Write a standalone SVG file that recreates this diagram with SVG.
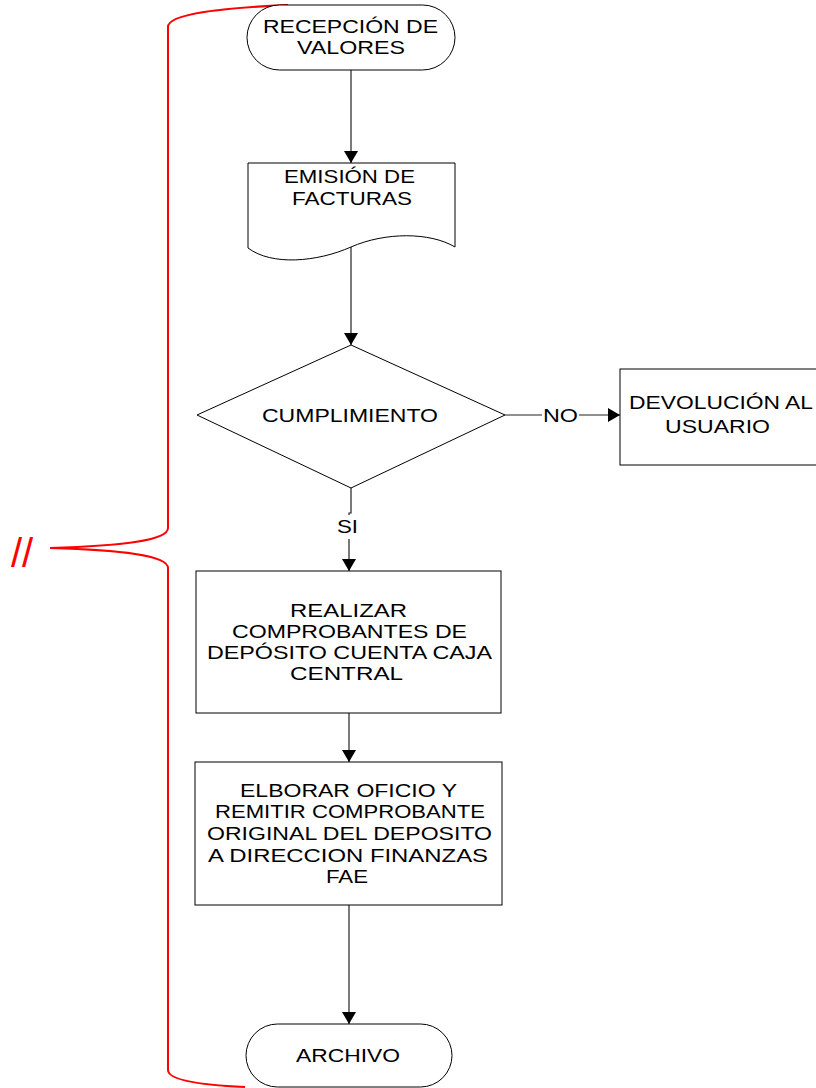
<svg xmlns="http://www.w3.org/2000/svg" width="816" height="1088" viewBox="0 0 816 1088">
  <style>
    .node { fill: #ffffff; stroke: #000000; stroke-width: 1; }
    .edge { fill: none; stroke: #222222; stroke-width: 1.2; }
    .lbl { font-family: "Liberation Sans", Arial, sans-serif; font-size: 18px; fill: #000000; text-anchor: middle; }
    .brace { fill: none; stroke: #ff0000; stroke-width: 2; }
    .mark { font-family: "Liberation Sans", Arial, sans-serif; font-size: 40px; fill: #ff0000; }
  </style>
  <defs>
    <marker id="arrow" markerUnits="userSpaceOnUse" markerWidth="14" markerHeight="14" refX="12" refY="7" orient="auto">
      <path d="M0,0 L12,7 L0,14 Z" fill="#000000"/>
    </marker>
  </defs>

  <rect width="816" height="1088" fill="#ffffff"/>

  <!-- red brace on the left -->
  <g id="brace">
    <path class="brace" d="M288,5 C220,8 168,14 168,27 V528 C168,541 120,546 50,548 C120,550 168,555 168,568 V1070 C168,1080 200,1085 245,1087"/>
    <text class="mark" x="11" y="567">//</text>
  </g>

  <!-- connectors -->
  <g id="connectors">
    <path class="edge" d="M351,70 V163" marker-end="url(#arrow)"/>
    <path class="edge" d="M351,247 V345" marker-end="url(#arrow)"/>
    <path class="edge" d="M351,488 V513 H349 V571" marker-end="url(#arrow)"/>
    <path class="edge" d="M505,415 H620" marker-end="url(#arrow)"/>
    <path class="edge" d="M349,713 V762" marker-end="url(#arrow)"/>
    <path class="edge" d="M349,905 V1024" marker-end="url(#arrow)"/>
    <rect x="336" y="515" width="24" height="24" fill="#ffffff"/>
    <text class="lbl" x="347.5" y="533" textLength="21" lengthAdjust="spacingAndGlyphs">SI</text>
    <rect x="542" y="405" width="37" height="20" fill="#ffffff"/>
    <text class="lbl" x="560.5" y="422" textLength="35" lengthAdjust="spacingAndGlyphs">NO</text>
  </g>

  <g id="recepcion">
    <rect class="node" x="247" y="5" width="208" height="65" rx="32.5"/>
    <text class="lbl" x="350.5" y="33" textLength="175" lengthAdjust="spacingAndGlyphs">RECEPCIÓN DE</text>
    <text class="lbl" x="351" y="54" textLength="108" lengthAdjust="spacingAndGlyphs">VALORES</text>
  </g>

  <g id="emision">
    <path class="node" d="M248,163 H455 V247 C430,232 385,232 351,247 C317,262 272,266 248,248 Z"/>
    <text class="lbl" x="349.5" y="183" textLength="131" lengthAdjust="spacingAndGlyphs">EMISIÓN DE</text>
    <text class="lbl" x="352" y="205" textLength="120" lengthAdjust="spacingAndGlyphs">FACTURAS</text>
  </g>

  <g id="cumplimiento">
    <path class="node" d="M351,345 L505,415 L351,488 L197,415 Z"/>
    <text class="lbl" x="350" y="422" textLength="176" lengthAdjust="spacingAndGlyphs">CUMPLIMIENTO</text>
  </g>

  <g id="devolucion">
    <rect class="node" x="620" y="369" width="210" height="96"/>
    <text class="lbl" x="721" y="409" textLength="184" lengthAdjust="spacingAndGlyphs">DEVOLUCIÓN AL</text>
    <text class="lbl" x="717.5" y="433" textLength="105" lengthAdjust="spacingAndGlyphs">USUARIO</text>
  </g>

  <g id="realizar">
    <rect class="node" x="196" y="571" width="305" height="142"/>
    <text class="lbl" x="348.5" y="617" textLength="117" lengthAdjust="spacingAndGlyphs">REALIZAR</text>
    <text class="lbl" x="349.5" y="638" textLength="235" lengthAdjust="spacingAndGlyphs">COMPROBANTES DE</text>
    <text class="lbl" x="349.5" y="659" textLength="285" lengthAdjust="spacingAndGlyphs">DEPÓSITO CUENTA CAJA</text>
    <text class="lbl" x="346.5" y="680" textLength="113" lengthAdjust="spacingAndGlyphs">CENTRAL</text>
  </g>

  <g id="elaborar">
    <rect class="node" x="195" y="762" width="307" height="143"/>
    <text class="lbl" x="348.5" y="797" textLength="217" lengthAdjust="spacingAndGlyphs">ELBORAR OFICIO Y</text>
    <text class="lbl" x="350" y="818" textLength="270" lengthAdjust="spacingAndGlyphs">REMITIR COMPROBANTE</text>
    <text class="lbl" x="349.5" y="840" textLength="285" lengthAdjust="spacingAndGlyphs">ORIGINAL DEL DEPOSITO</text>
    <text class="lbl" x="348" y="862" textLength="280" lengthAdjust="spacingAndGlyphs">A DIRECCION FINANZAS</text>
    <text class="lbl" x="347" y="883" textLength="42" lengthAdjust="spacingAndGlyphs">FAE</text>
  </g>

  <g id="archivo">
    <rect class="node" x="246" y="1024" width="206" height="63" rx="31.5"/>
    <text class="lbl" x="348" y="1062" textLength="104" lengthAdjust="spacingAndGlyphs">ARCHIVO</text>
  </g>
</svg>
